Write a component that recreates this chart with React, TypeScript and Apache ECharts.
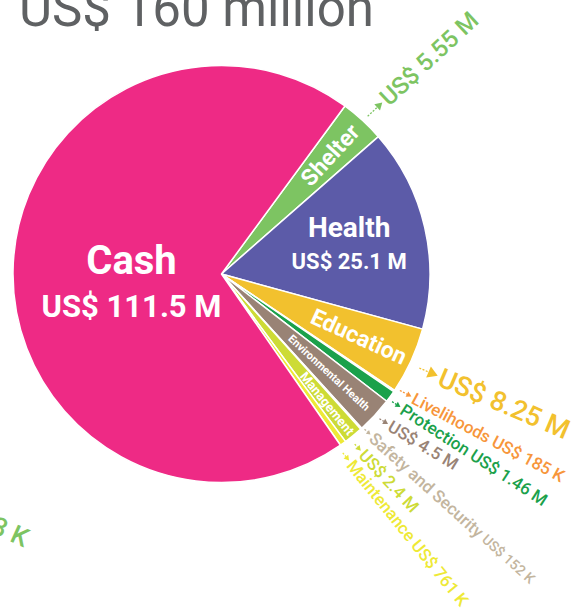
import React, { useEffect, useRef } from 'react';
import * as echarts from 'echarts';

// ---------- data ----------
const categories = ['Shelter', 'Health', 'Education', 'Livelihoods', 'Protection', 'Environmental Health', 'Safety and Security', 'Management', 'Maintenance', 'Cash'];
const values = [5.55, 25.1, 8.25, 0.185, 1.46, 4.5, 0.152, 2.4, 0.761, 111.5];
const amountLabels = ['US$ 5.55 M', 'US$ 25.1 M', 'US$ 8.25 M', 'US$ 185 K', 'US$ 1.46 M', 'US$ 4.5 M', 'US$ 152 K', 'US$ 2.4 M', 'US$ 761 K', 'US$ 111.5 M'];
const colors = ['#7DC462', '#5C5BA8', '#F2C12E', '#F7963B', '#1BA14B', '#998375', '#C3B59E', '#CDDB36', '#EEE936', '#EE2A85'];
const titleText = 'US$ 160 million';
const strayLabel = '3 K';

// ---------- layout (positions / styles only) ----------
const CX = 221.5;
const CY = 274;
const R = 208.5;
const START = 53.7;
const FONT = 'Roboto, "Noto Sans", sans-serif';

type Inner = { i: number; r: number; rotate: boolean; lines: { text: string; dy: number; size: number }[] };
const innerLayout: Inner[] = [
  { i: 0, r: 161, rotate: true, lines: [{ text: categories[0], dy: 0, size: 23 }] },
  { i: 1, r: 131, rotate: false, lines: [{ text: categories[1], dy: -17, size: 28 }, { text: amountLabels[1], dy: 17, size: 22 }] },
  { i: 2, r: 151, rotate: true, lines: [{ text: categories[2], dy: 0, size: 23 }] },
  { i: 5, r: 146, rotate: true, lines: [{ text: categories[5], dy: 0, size: 11 }] },
  { i: 7, r: 167, rotate: true, lines: [{ text: categories[7], dy: 0, size: 13 }] },
  { i: 9, r: 90, rotate: false, lines: [{ text: categories[9], dy: -12, size: 40 }, { text: amountLabels[9], dy: 34, size: 31 }] },
];

type Outer = { i: number; ang: number; r: number; rot: number; size: number; len: number; head: number; withName: boolean };
const outerLayout: Outer[] = [
  { i: 0, ang: 46.8, r: 237, rot: 43, size: 24, len: 20, head: 7, withName: false },
  { i: 2, ang: -25.2, r: 241, rot: -23, size: 27, len: 20, head: 10, withName: false },
  { i: 3, ang: -32.8, r: 228, rot: -28, size: 17, len: 13, head: 5, withName: true },
  { i: 4, ang: -36.6, r: 225, rot: -33, size: 17, len: 10, head: 5, withName: true },
  { i: 5, ang: -41.9, r: 226, rot: -31, size: 17, len: 10, head: 5, withName: false },
  { i: 6, ang: -47.1, r: 221, rot: -42, size: 17, len: 8, head: 4, withName: true },
  { i: 7, ang: -51.7, r: 227, rot: -47, size: 17, len: 9, head: 5, withName: false },
  { i: 8, ang: -55.6, r: 228, rot: -51, size: 17, len: 10, head: 5, withName: true },
];

const rad = (d: number) => (d * Math.PI) / 180;
const polar = (angDeg: number, r: number): [number, number] => [CX + r * Math.cos(rad(angDeg)), CY - r * Math.sin(rad(angDeg))];

function midAngles(): number[] {
  const total = values.reduce((a, b) => a + b, 0);
  let a = START;
  return values.map((v) => {
    const span = (v / total) * 360;
    const mid = a - span / 2;
    a -= span;
    return mid;
  });
}

function textEl(x: number, y: number, rotDeg: number, text: string, fill: string, size: number, weight: string, align: string, extra: any = {}) {
  return {
    type: 'text',
    x,
    y,
    rotation: rad(rotDeg),
    silent: true,
    z: 10,
    style: {
      text,
      fill,
      fontSize: size,
      fontWeight: weight,
      fontFamily: FONT,
      align,
      verticalAlign: 'middle',
      textAlign: align,
      textVerticalAlign: 'middle',
      ...extra,
    },
  };
}

function buildGraphics() {
  const mids = midAngles();
  const els: any[] = [];

  els.push(textEl(19, 8.5, 0, titleText, '#5F6163', 51, 'normal', 'left'));
  els.push(textEl(-7, 524, -24, strayLabel, colors[0], 26, '500', 'left'));

  innerLayout.forEach((L) => {
    const mid = mids[L.i];
    const [px, py] = polar(mid, L.r);
    L.lines.forEach((ln) => {
      els.push(textEl(px, py + ln.dy, L.rotate ? mid : 0, ln.text, '#FFFFFF', ln.size, 'bold', 'center'));
    });
  });

  outerLayout.forEach((L) => {
    const color = colors[L.i];
    const [sx, sy] = polar(L.ang, L.r);
    const dx = Math.cos(rad(L.rot));
    const dy = -Math.sin(rad(L.rot));
    const nx = -dy;
    const ny = dx;
    const tipX = sx - dx * 2;
    const tipY = sy - dy * 2;
    const baseX = tipX - dx * L.head;
    const baseY = tipY - dy * L.head;
    const lx0 = tipX - dx * L.len;
    const ly0 = tipY - dy * L.len;
    els.push({
      type: 'line',
      silent: true,
      z: 9,
      shape: { x1: lx0, y1: ly0, x2: baseX, y2: baseY },
      style: { stroke: color, lineWidth: 1.3, lineDash: [2, 1.5] },
    });
    const hw = L.head * 0.6;
    els.push({
      type: 'polygon',
      silent: true,
      z: 9,
      shape: {
        points: [
          [tipX, tipY],
          [baseX + nx * hw, baseY + ny * hw],
          [baseX - nx * hw, baseY - ny * hw],
        ],
      },
      style: { fill: color },
    });
    if (L.i === 6) {
      els.push(
        textEl(sx, sy, L.rot, '{a|' + categories[L.i] + ' }{b|' + amountLabels[L.i] + '}', color, L.size, '500', 'left', {
          rich: {
            a: { fontSize: L.size, fontFamily: FONT, fontWeight: 500, fill: color, verticalAlign: 'middle' },
            b: { fontSize: 14, fontFamily: FONT, fontWeight: 500, fill: color, verticalAlign: 'middle' },
          },
        })
      );
    } else {
      const t = L.withName ? categories[L.i] + ' ' + amountLabels[L.i] : amountLabels[L.i];
      els.push(textEl(sx, sy, L.rot, t, color, L.size, '500', 'left'));
    }
  });

  return els;
}

export default function App() {
  const ref = useRef<HTMLDivElement>(null);

  useEffect(() => {
    if (!ref.current) return;
    const chart = echarts.init(ref.current, undefined, { renderer: 'svg' });
    chart.setOption({
      animation: false,
      backgroundColor: '#FFFFFF',
      series: [
        {
          type: 'pie',
          center: [CX, CY],
          radius: [0, R],
          startAngle: START,
          clockwise: true,
          avoidLabelOverlap: false,
          silent: true,
          label: { show: false },
          labelLine: { show: false },
          itemStyle: { borderColor: '#FFFFFF', borderWidth: 1.5 },
          data: categories.map((name, i) => ({ name, value: values[i], itemStyle: { color: colors[i] } })),
        },
      ],
      graphic: { elements: buildGraphics() },
    });
    return () => chart.dispose();
  }, []);

  return <div ref={ref} style={{ position: 'fixed', left: 0, top: 0, width: 578, height: 610 }} />;
}
